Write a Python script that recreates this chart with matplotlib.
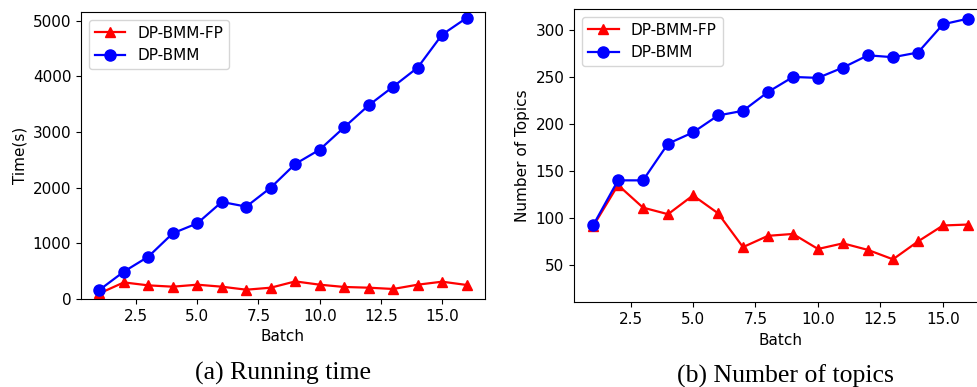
import matplotlib
matplotlib.use("Agg")
import matplotlib.pyplot as plt

batches = list(range(1, 17))
time_fp = [100, 298, 245, 221, 257, 221, 167, 203, 316, 257, 216, 203, 180, 257, 311, 252]
time_bmm = [162, 491, 760, 1180, 1359, 1743, 1659, 2000, 2425, 2683, 3084, 3479, 3814, 4156, 4749, 5048]
topics_fp = [91, 135, 111, 104, 124, 105, 69, 81, 83, 67, 73, 66, 56, 75, 92, 93]
topics_bmm = [92, 140, 140, 179, 191, 209, 214, 234, 250, 249, 260, 273, 271, 276, 306, 312]
series_names = ["DP-BMM-FP", "DP-BMM"]
captions = ["(a) Running time", "(b) Number of topics"]

fs = 11
plt.rcParams['font.family'] = ['DejaVu Sans']
fig = plt.figure(figsize=(9.78, 3.87), dpi=100)

ax1 = fig.add_axes([0.0828, 0.2274, 0.4131, 0.7416])
ax2 = fig.add_axes([0.5872, 0.2189, 0.4217, 0.7579])

def draw(ax, fp, bmm, ylabel):
    ax.plot(batches, fp, color='red', marker='^', markersize=7.5, linewidth=1.6, label=series_names[0])
    ax.plot(batches, bmm, color='blue', marker='o', markersize=8, linewidth=1.6, label=series_names[1])
    ax.set_xlabel("Batch", fontsize=fs)
    ax.set_ylabel(ylabel, fontsize=fs)
    ax.tick_params(labelsize=fs)
    ax.set_xticks([2.5, 5.0, 7.5, 10.0, 12.5, 15.0])
    ax.set_xlim(0.25, 16.75)
    ax.legend(loc='upper left', fontsize=fs)

draw(ax1, time_fp, time_bmm, "Time(s)")
ax1.set_ylim(0, 5155)
ax1.set_yticks([0, 1000, 2000, 3000, 4000, 5000])

draw(ax2, topics_fp, topics_bmm, "Number of Topics")
ax2.set_ylim(10.3, 322.3)
ax2.set_yticks([50, 100, 150, 200, 250, 300])

fig.text(0.2894, 0.036, captions[0], ha='center', va='center', family='Liberation Serif', fontsize=18.5)
fig.text(0.8027, 0.028, captions[1], ha='center', va='center', family='Liberation Serif', fontsize=18.5)

fig.savefig("out.png", dpi=100)
